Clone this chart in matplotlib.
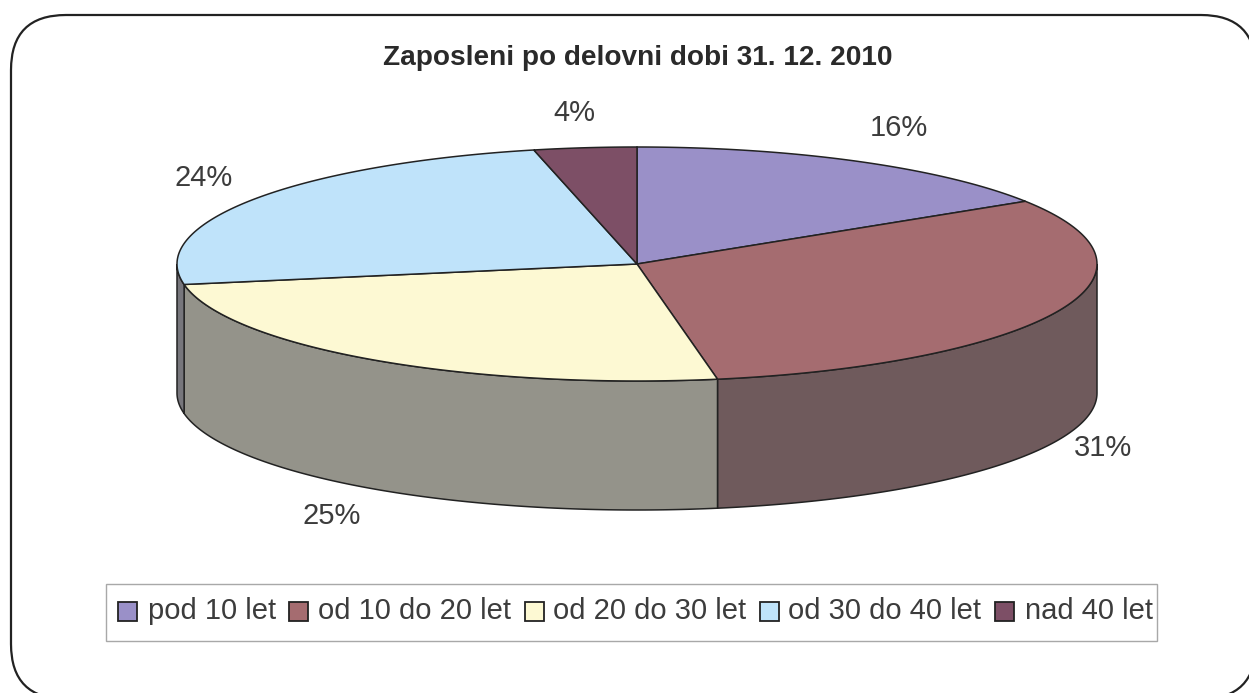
import numpy as np
import matplotlib
matplotlib.use('Agg')
import matplotlib.pyplot as plt
from matplotlib.patches import Polygon, Rectangle, FancyBboxPatch

title = "Zaposleni po delovni dobi 31. 12. 2010"
categories = ["pod 10 let", "od 10 do 20 let", "od 20 do 30 let", "od 30 do 40 let", "nad 40 let"]
shares = [16.0, 31.2, 25.0, 24.2, 3.6]
top_colors = ["#9a90c8", "#a56c70", "#fdf9d3", "#bfe3fa", "#7d4f66"]
side_colors = ["#6d6670", "#6f5a5c", "#94938a", "#77767c", "#5d4a55"]
label_pos = [(899, 128), (1103, 448), (332, 516), (204, 178), (574, 113)]

W, H = 1249, 693
cx, cy, rx, ry, depth = 637, 264, 460, 117, 129
edge = "#222222"
text_color = "#3c3c3c"


def rim(a0, a1, n=120):
    # angles are clockwise from 12 o'clock, as in the excel pie
    t = np.radians(np.linspace(a0, a1, n))
    return np.column_stack([cx + rx * np.sin(t), cy - ry * np.cos(t)])


plt.rcParams['font.family'] = ['Liberation Sans', 'DejaVu Sans']
fig = plt.figure(figsize=(W / 100, H / 100), dpi=100)
ax = fig.add_axes([0, 0, 1, 1])
ax.set_xlim(0, W)
ax.set_ylim(H, 0)
ax.axis('off')

# rounded frame, runs off the bottom and right of the picture
ax.add_patch(FancyBboxPatch((11, 15), 1245, 684, boxstyle="round,pad=0,rounding_size=55",
                            fc='white', ec='#222222', lw=1.6))

ax.text(638, 58, title, ha='center', va='center', fontsize=20.2, color='#2a2a2a',
        fontweight='bold')

angles = np.cumsum([0] + shares) * 3.6

# side wall first, only the front half of the ellipse shows
for i in range(len(shares)):
    a0, a1 = max(angles[i], 90), min(angles[i + 1], 270)
    if a1 <= a0:
        continue
    top = rim(a0, a1)
    low = top[::-1] + [0, depth]
    ax.add_patch(Polygon(np.vstack([top, low]), closed=True, fc=side_colors[i], ec=edge, lw=1.1))

for i in range(len(shares)):
    pts = np.vstack([[cx, cy], rim(angles[i], angles[i + 1])])
    ax.add_patch(Polygon(pts, closed=True, fc=top_colors[i], ec=edge, lw=1.1))

for (x, y), s in zip(label_pos, shares):
    ax.text(x, y, f"{s:.0f}%", ha='center', va='center', fontsize=21, color=text_color)

# legend drawn by hand so the spacing follows the original box
ax.add_patch(Rectangle((106, 584), 1051, 57, fc='white', ec='#a8a8a8', lw=1))
swatch_x = [118, 289, 525, 760, 995]
name_x = [148, 318, 553, 788, 1025]
for x, tx, c, name in zip(swatch_x, name_x, top_colors, categories):
    ax.add_patch(Rectangle((x, 602), 19, 19, fc=c, ec='#222222', lw=1.3))
    ax.text(tx, 611, name, ha='left', va='center', fontsize=21, color=text_color)

fig.savefig('out.png', dpi=100)
